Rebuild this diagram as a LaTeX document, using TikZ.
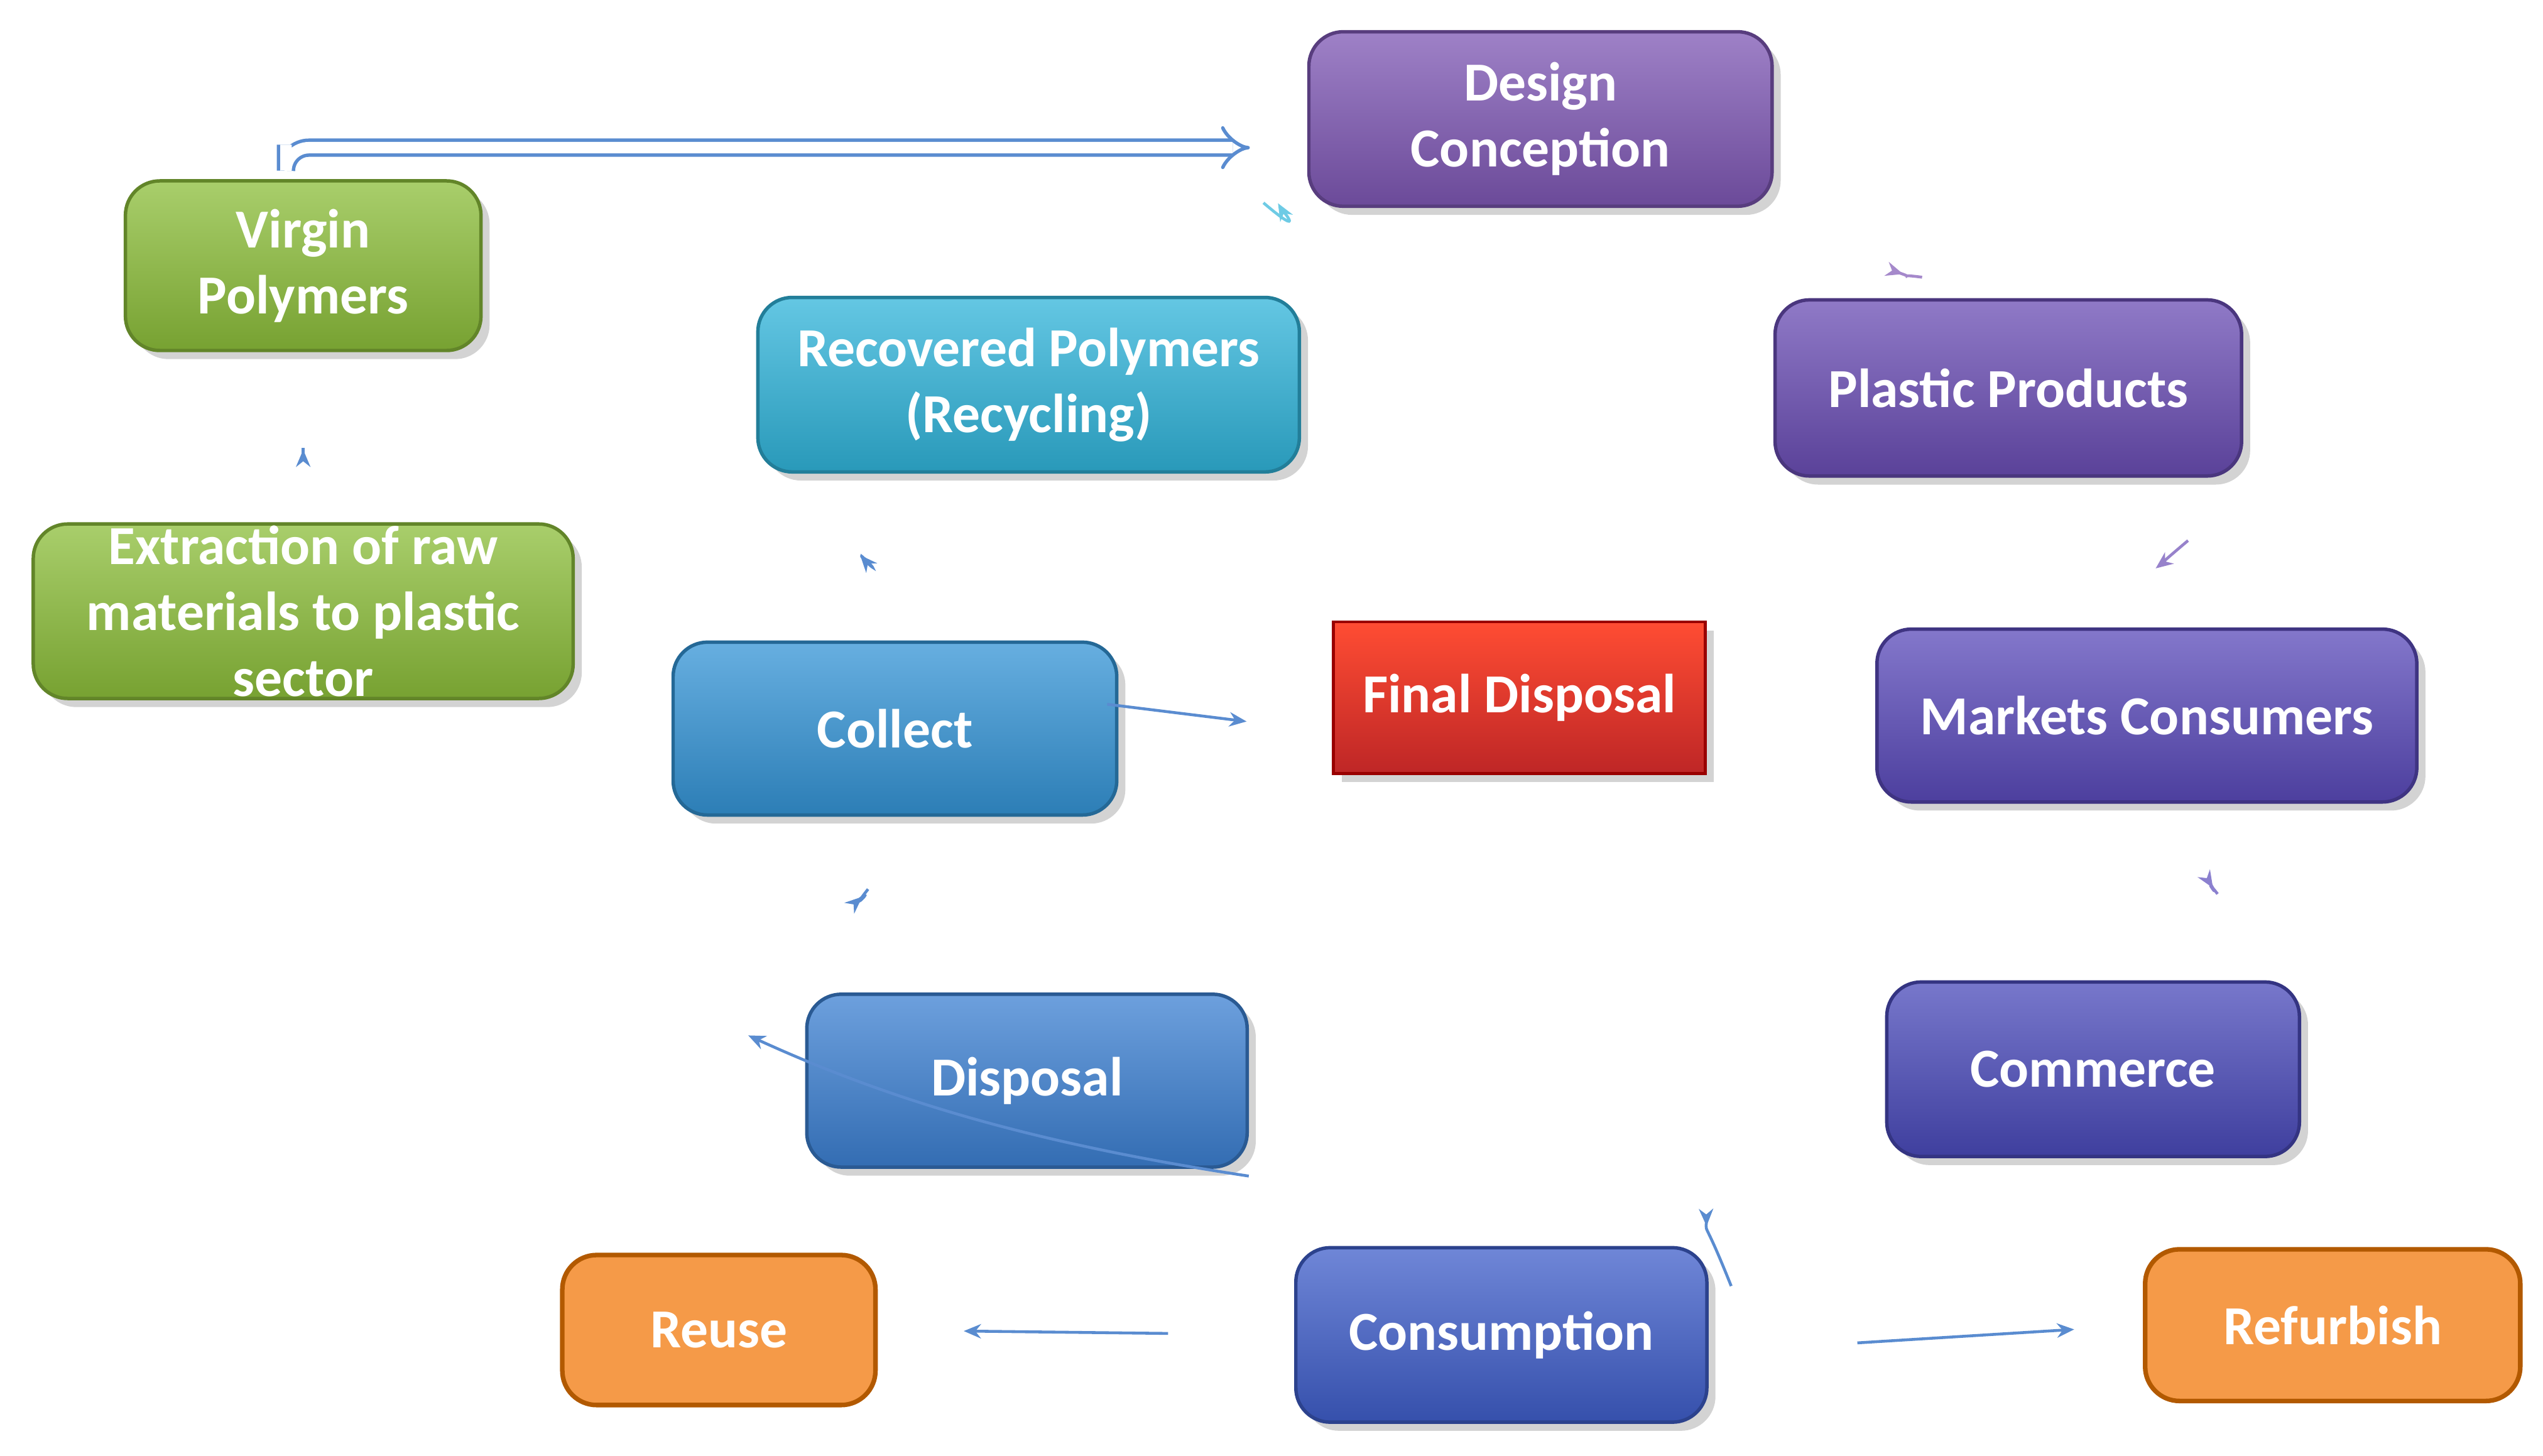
\documentclass[tikz,border=0pt]{standalone}
\usepackage{fontspec}
\setmainfont{Carlito}
\usetikzlibrary{arrows.meta,shadows}
\begin{document}
\begin{tikzpicture}[x=0.01cm,y=-0.01cm,
 box/.style={rounded corners=6pt,draw=#1!70!black,line width=0.6pt,top color=#1!75!white,bottom color=#1!85!black,
   text=white,font=\bfseries\fontsize{9.6}{11.5}\selectfont,align=center,inner sep=0pt,
   drop shadow={shadow xshift=1.5pt,shadow yshift=-1.5pt,opacity=0.35}},
 con/.style={draw=blue!55!cyan!70!black,line width=0.5pt,-{Stealth[length=3pt,width=2.5pt]}},
 arr/.style={con,draw=#1},
]
\useasboundingbox (0,0) rectangle (1560,893);
\definecolor{cDes}{HTML}{7E57B4}
\definecolor{cGreen}{HTML}{8CBE3A}
\definecolor{cRec}{HTML}{30B4DA}
\definecolor{cPla}{HTML}{6A4DB4}
\definecolor{cCol}{HTML}{3494D6}
\definecolor{cMar}{HTML}{5A4ABA}
\definecolor{cDis}{HTML}{3C80D2}
\definecolor{cCom}{HTML}{4A4ABA}
\definecolor{cCon}{HTML}{3F5ECA}
\definecolor{cOr}{HTML}{F59A48}
\definecolor{cLine}{HTML}{5A8CD0}
\node[box=cDes,minimum width=2.84cm,minimum height=1.07cm] (des) at (945,73) {Design\\Conception};
\node[box=cGreen,minimum width=2.18cm,minimum height=1.04cm] (vir) at (186,163) {Virgin\\Polymers};
\node[box=cGreen,minimum width=3.31cm,minimum height=1.07cm] (ext) at (186,375) {Extraction of raw\\materials to plastic\\sector};
\node[box=cRec,minimum width=3.32cm,minimum height=1.07cm] (rec) at (631,236) {Recovered Polymers\\(Recycling)};
\node[box=cPla,minimum width=2.86cm,minimum height=1.08cm] (pla) at (1232,238) {Plastic Products};
\node[box=cCol,minimum width=2.72cm,minimum height=1.06cm] (col) at (549,447) {Collect};
\node[rectangle,draw=red!60!black,line width=0.5pt,top color=red!75!orange!80!white,bottom color=red!70!black!85!white,
  text=white,font=\bfseries\fontsize{9.6}{11.5}\selectfont,minimum width=2.28cm,minimum height=0.93cm,
  drop shadow={shadow xshift=1.5pt,shadow yshift=-1.5pt,opacity=0.35}] (fin) at (932,428) {Final Disposal};
\node[box=cMar,minimum width=3.31cm,minimum height=1.06cm] (mar) at (1317,439) {Markets Consumers};
\node[box=cDis,minimum width=2.70cm,minimum height=1.06cm] (dis) at (630,663) {Disposal};
\node[box=cCom,minimum width=2.53cm,minimum height=1.07cm] (com) at (1284,656) {Commerce};
\node[box=cCon,minimum width=2.52cm,minimum height=1.07cm] (con) at (921,819) {Consumption};
\node[rounded corners=6pt,draw=orange!70!black,line width=0.8pt,fill=cOr,text=white,font=\bfseries\fontsize{9.6}{11.5}\selectfont,
  minimum width=1.92cm,minimum height=0.92cm] (reu) at (441,816) {Reuse};
\node[rounded corners=6pt,draw=orange!70!black,line width=0.8pt,fill=cOr,text=white,font=\bfseries\fontsize{9.6}{11.5}\selectfont,
  minimum width=2.30cm,minimum height=0.93cm] (ref) at (1431,813) {Refurbish};
% double arrow
\draw[draw=cLine,double=white,double distance=2pt,line width=0.6pt,rounded corners=4pt,-{Implies[length=5pt]},shorten <=6pt,shorten >=10pt]
  ([xshift=-3pt]vir.north) |- ([yshift=-5pt]des.west);
\draw[arr=cLine,shorten <=13pt,shorten >=17pt] (ext.north) -- (vir.south);
\draw[arr=cRec!70!white,shorten <=25pt,shorten >=14pt] ([xshift=60pt]rec.north) to[bend left=10] ([xshift=-12pt,yshift=13pt]des.south west);
\draw[arr=cDes!70!white,shorten <=16pt,shorten >=14pt] ([xshift=10pt,yshift=-10pt]des.south east) to[bend left=5] ([xshift=-5pt]pla.north);
\draw[arr=cPla!70!white,shorten <=16pt,shorten >=17pt] ([xshift=43pt]pla.south) to[bend left=3] ([xshift=-12pt]mar.north);
\draw[arr=cMar!70!white,shorten <=20pt,shorten >=19pt] (mar.south) to[bend left=3] ([xshift=31pt]com.north);
\draw[arr=cLine,shorten <=24pt,shorten >=12pt] ([xshift=-72pt]com.south) to[bend left=10] ([yshift=7pt]con.east);
\draw[arr=cLine,shorten <=8pt,shorten >=18pt] ([yshift=11pt]con.north west) to[bend left=8] ([xshift=-65pt]dis.north);
\draw[arr=cLine,shorten <=23pt,shorten >=21pt] ([xshift=-42pt]dis.north) to[bend left=5] ([xshift=10pt]col.south);
\draw[arr=cLine,shorten <=20pt,shorten >=19pt] ([xshift=10pt]col.north) to[bend left=3] ([xshift=-42pt]rec.south);
\draw[arr=cLine,shorten <=-2pt,shorten >=15pt] ([yshift=4pt]col.east) -- ([yshift=-6pt]fin.west);
\draw[arr=cLine,shorten <=22pt,shorten >=15pt] (con.west) -- (reu.east);
\draw[arr=cLine,shorten <=26pt,shorten >=12pt] ([yshift=-3pt]con.east) -- (ref.west);
\end{tikzpicture}
\end{document}
